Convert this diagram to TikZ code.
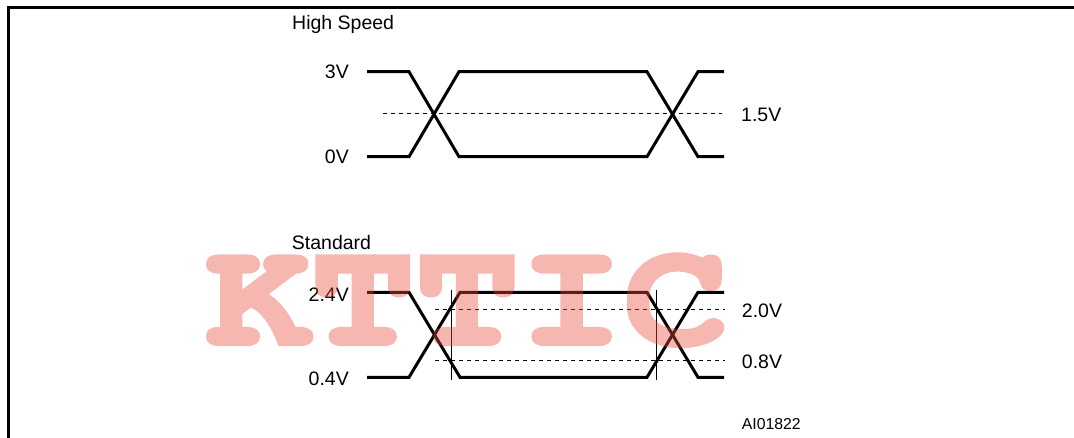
\documentclass[tikz,border=0pt]{standalone}
\usepackage{fontspec}
\setmainfont{Liberation Sans}
\newfontfamily\wmfont[FakeBold=2.8]{texgyrecursor-bold.otf}
\definecolor{wmred}{RGB}{230,75,57}
\begin{document}
\begin{tikzpicture}[x=1pt,y=-1pt,
  wave/.style={line width=3pt, line join=miter},
  refline/.style={line width=1pt, dash pattern=on 4pt off 4pt},
  guide/.style={line width=1pt},
  lbl/.style={font=\fontsize{19.5}{22}\selectfont, inner sep=0pt},
  small/.style={font=\fontsize{15.8}{18}\selectfont, inner sep=0pt},
  wmtext/.style={font=\wmfont\bfseries\fontsize{150}{150}\selectfont, text=wmred, inner sep=0pt, anchor=base west, xscale=1.16},
]
\useasboundingbox (0,0) rectangle (1074,438);
% frame
\draw[line width=3pt, line join=miter] (8,440) -- (8,7.5) -- (1076,7.5);
% High speed
\draw[wave] (367,71.7) -- (409,71.7) -- (459,156.7) -- (647,156.7) -- (698,71.7) -- (724,71.7);
\draw[wave] (367,156.7) -- (409,156.7) -- (459,71.7) -- (647,71.7) -- (698,156.7) -- (724,156.7);
\draw[refline] (383,114) -- (722,114);
% Standard
\draw[wave] (367,292.3) -- (409,292.3) -- (460,377.3) -- (647,377.3) -- (698,292.3) -- (724,292.3);
\draw[wave] (367,377.3) -- (409,377.3) -- (460,292.3) -- (647,292.3) -- (698,377.3) -- (724,377.3);
\draw[refline] (435,309.3) -- (725,309.3);
\draw[refline] (435,360.7) -- (725,360.7);
\draw[guide] (451.7,290) -- (451.7,379.5);
\draw[guide] (656,290) -- (656,379.5);
% labels
\node[lbl, anchor=base west] (hs) at (292,30) {High Speed};
\node[lbl, anchor=base east] (v3) at (349,79) {3V};
\node[lbl, anchor=base east] (v0) at (349,163.5) {0V};
\node[lbl, anchor=base west] (v15) at (741,121.5) {1.5V};
\node[lbl, anchor=base west] (std) at (291.7,250) {Standard};
\node[lbl, anchor=base east] (v24) at (349,301.7) {2.4V};
\node[lbl, anchor=base east] (v04) at (349,385.7) {0.4V};
\node[lbl, anchor=base west] (v20) at (741.7,317.5) {2.0V};
\node[lbl, anchor=base west] (v08) at (741.7,369) {0.8V};
\node[small, anchor=base west] (id) at (741.7,429.3) {AI01822};
% watermark
\begin{scope}[transparency group, opacity=0.4]
  \node[wmtext] (wm) at (206,344) {KTTIC};
\end{scope}
\end{tikzpicture}
\end{document}
